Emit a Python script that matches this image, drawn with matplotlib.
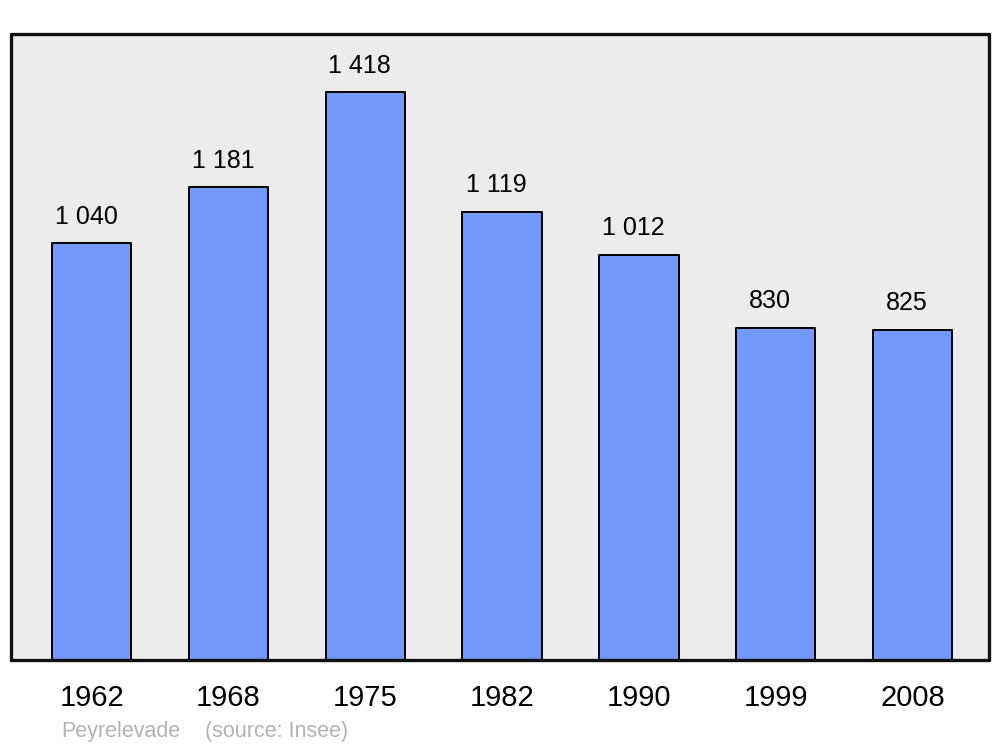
import matplotlib.pyplot as plt

plt.rcParams['font.family'] = ['Liberation Sans', 'DejaVu Sans']

years = ["1962", "1968", "1975", "1982", "1990", "1999", "2008"]
population = [1040, 1181, 1418, 1119, 1012, 830, 825]
value_labels = ["1 040", "1 181", "1 418", "1 119", "1 012", "830", "825"]

fig = plt.figure(figsize=(10, 7.47), dpi=100)
ax = fig.add_axes([0.011, 1 - 660 / 747, 0.978, (660 - 34) / 747])
ax.set_facecolor("#ececec")

x = range(len(years))
bars = ax.bar(x, population, width=0.58, color="#7399ff",
              edgecolor="black", linewidth=1.4, zorder=2)
for b in bars:
    b.set_joinstyle("round")

for i, (v, lab) in enumerate(zip(population, value_labels)):
    ax.text(i - 0.04, v + 66, lab, ha="center", va="center", fontsize=18)

ax.set_xlim(-0.59, 6.56)
ax.set_ylim(0, 1563)
ax.set_xticks(list(x))
ax.set_xticklabels(years, fontsize=21)
ax.tick_params(axis="x", length=0, pad=17)
ax.set_yticks([])

for s in ax.spines.values():
    s.set_linewidth(2.4)
    s.set_color("#111111")
    s.set_capstyle("round")
    s.set_joinstyle("round")
    s.set_zorder(3)

fig.text(61 / 1000, 1 - 732 / 747, "Peyrelevade", color="#b3b3b3",
         fontsize=15.5, ha="left", va="center")
fig.text(205 / 1000, 1 - 732 / 747, "(source: Insee)", color="#b3b3b3",
         fontsize=15.5, ha="left", va="center")

fig.savefig("out.png", dpi=100)
